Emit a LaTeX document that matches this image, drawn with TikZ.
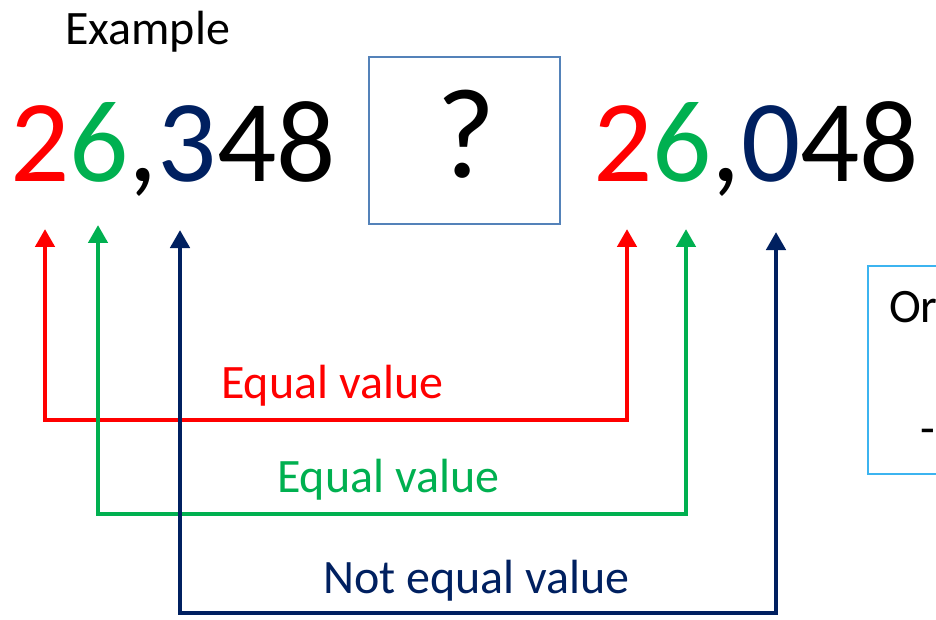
\documentclass[tikz,border=0pt]{standalone}
\usepackage{fontspec}
\setmainfont{Carlito}
\usetikzlibrary{arrows.meta}
\definecolor{cred}{RGB}{255,0,0}
\definecolor{cgreen}{RGB}{0,176,80}
\definecolor{cnavy}{RGB}{0,32,96}
\definecolor{qbox}{RGB}{84,130,185}
\definecolor{sbox}{RGB}{60,180,240}
\tikzset{
  bignum/.style={inner sep=0pt, anchor=base west, font=\fontsize{117}{125}\selectfont},
  lbl/.style={inner sep=0pt, anchor=base west, font=\fontsize{48}{52}\selectfont},
  link/.style={line width=4.5pt, {Triangle[length=18pt,width=19pt]}-{Triangle[length=18pt,width=19pt]}},
}
\begin{document}
\begin{tikzpicture}[x=1pt,y=-1pt]
\useasboundingbox (0,0) rectangle (936,620);
\clip (0,0) rectangle (936,620);
\node[lbl] (ex) at (65,45) {Example};
\node[bignum] (numL) at (10,182) {\textcolor{cred}{2}\textcolor{cgreen}{6},\textcolor{cnavy}{3}48};
\node[draw=qbox, line width=2pt, minimum width=191pt, minimum height=167pt, inner sep=0pt] (q) at (464.5,140.5) {};
\node[inner sep=0pt, anchor=base, font=\fontsize{128}{130}\selectfont] (qm) at (466,178) {?};
\node[bignum] (numR) at (593,182) {\textcolor{cred}{2}\textcolor{cgreen}{6},\textcolor{cnavy}{0}48};
% side box
\node[draw=sbox, line width=2pt, minimum width=120pt, minimum height=208pt, inner sep=0pt, anchor=north west] (side) at (867,265) {};
\node[lbl] (or) at (889,322) {Or};
\node[lbl] (dash) at (920,444) {-};
% connectors
\coordinate (rA) at (45,229);
\coordinate (rB) at (45,420);
\coordinate (rC) at (627,420);
\coordinate (rD) at (627,229);
\coordinate (gA) at (98,225);
\coordinate (gB) at (98,514);
\coordinate (gC) at (686,514);
\coordinate (gD) at (686,229);
\coordinate (bA) at (180,230);
\coordinate (bB) at (180,613);
\coordinate (bC) at (776,613);
\coordinate (bD) at (776,232);
\draw[link, cred] (rA) -- (rB) -- (rC) -- (rD);
\draw[link, cgreen] (gA) -- (gB) -- (gC) -- (gD);
\draw[link, cnavy] (bA) -- (bB) -- (bC) -- (bD);
\node[lbl, text=cred] (l1) at (221,398) {Equal value};
\node[lbl, text=cgreen] (l2) at (277,492) {Equal value};
\node[lbl, text=cnavy] (l3) at (323,593) {Not equal value};
\end{tikzpicture}
\end{document}
